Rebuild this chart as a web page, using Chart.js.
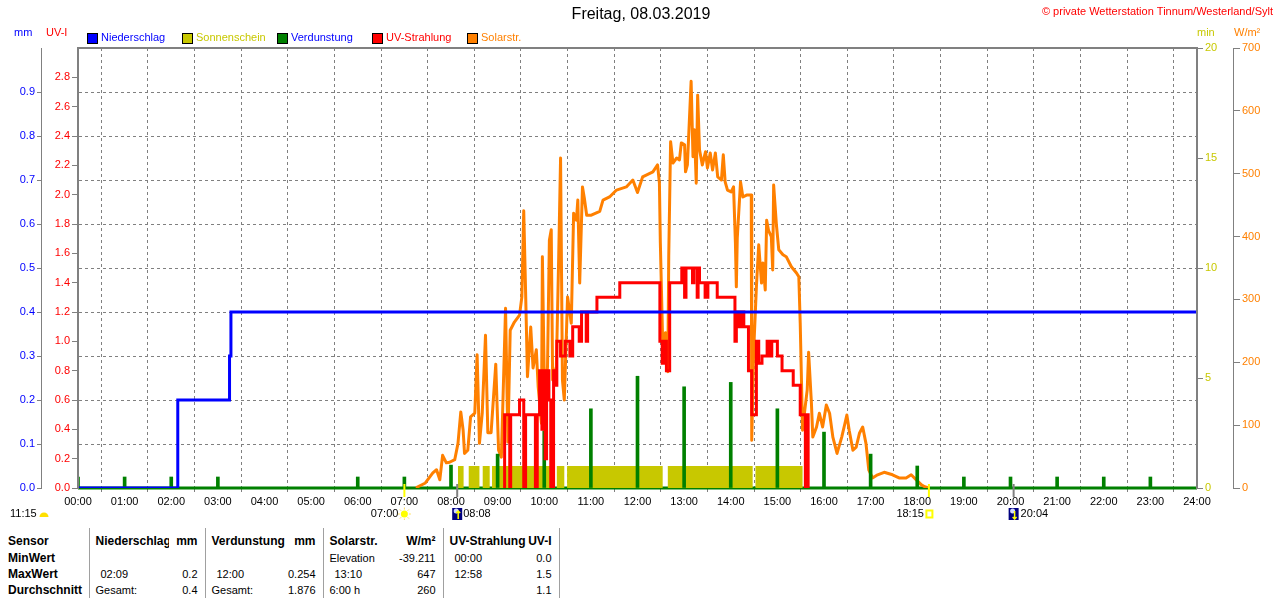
<!DOCTYPE html>
<html lang="de">
<head>
<meta charset="utf-8">
<title>Freitag, 08.03.2019</title>
<script src="https://cdn.jsdelivr.net/npm/chart.js@4.4.1/dist/chart.umd.min.js"></script>
<style>
  body { margin: 0; background: #fff; }
  #wrap { position: relative; width: 1280px; height: 600px; overflow: hidden; font-family: "Liberation Sans", Arial, sans-serif; }
  #chart { position: absolute; left: 0; top: 0; }
  #stats { position: absolute; left: 0; top: 528px; width: 559px; border-collapse: collapse; table-layout: fixed; font-size: 11px; color: #000; }
  #stats td { padding: 0; height: 16px; line-height: 16px; white-space: nowrap; overflow: hidden; }
  #stats tr.head td { height: 22px; line-height: 18px; vertical-align: bottom; font-weight: bold; font-size: 12px; }
  #stats td.lbl { font-weight: bold; font-size: 12px; padding-left: 8px; }
  #stats td.l { border-left: 1px solid #a0a0a0; padding-left: 6px; }
  #stats td.t { padding-left: 11px; }
  #stats td.r { text-align: right; padding-right: 7px; }
  #stats td.last { border-right: 1px solid #a0a0a0; }
</style>
</head>
<body>
<div id="wrap">
  <canvas id="chart" width="1280" height="520"></canvas>
  <table id="stats"></table>
</div>
<script>
const chartTitle = 'Freitag, 08.03.2019';
const copyright = '\u00A9 private Wetterstation Tinnum/Westerland/Sylt';

const hourLabels = ['00:00', '01:00', '02:00', '03:00', '04:00', '05:00', '06:00', '07:00', '08:00',
  '09:00', '10:00', '11:00', '12:00', '13:00', '14:00', '15:00', '16:00', '17:00', '18:00',
  '19:00', '20:00', '21:00', '22:00', '23:00', '24:00'];

const seriesNames = ['Niederschlag', 'Sonnenschein', 'Verdunstung', 'UV-Strahlung', 'Solarstr.'];
const seriesColors = ['#0000ff', '#c8c800', '#008000', '#ff0000', '#ff8000'];
const legendTextColors = ['#0000ff', '#c8c800', '#0000ff', '#ff0000', '#ff8000'];

// Niederschlag (mm, Summe), Zeit in Stunden
const rainTimes = [0, 2.14, 3.25, 3.28, 24];
const rainValues = [0, 0.2, 0.3, 0.4, 0.4];

// Sonnenschein (min), Intervalle mit Sonne
const sunStart = [8.15, 8.38, 8.68, 8.88, 10.27, 10.49, 12.65, 14.53];
const sunEnd = [8.27, 8.61, 8.83, 10.23, 10.43, 12.54, 14.47, 15.54];
const sunMinutes = [1, 1, 1, 1, 1, 1, 1, 1];

// Verdunstung (mm) je Stunde
const evapHours = [0, 1, 2, 3, 6, 7, 8, 9, 10, 11, 12, 13, 14, 15, 16, 17, 18, 19, 20, 21, 22, 23];
const evapValues = [0.025, 0.025, 0.025, 0.025, 0.025, 0.025, 0.052, 0.077, 0.13, 0.18, 0.254,
  0.23, 0.24, 0.18, 0.127, 0.077, 0.05, 0.025, 0.025, 0.025, 0.025, 0.025];

// UV-Strahlung (UV-I)
const uvTimes = [9.14, 9.15, 9.26, 9.28, 9.47, 9.56, 9.60, 9.81, 9.85, 9.90, 9.95, 9.98, 10.02, 10.05,
  10.10, 10.14, 10.20, 10.24, 10.27, 10.35, 10.45, 10.55, 10.61, 10.75, 10.80, 10.90, 10.93, 11.13,
  11.62, 12.48, 12.53, 12.58, 12.62, 12.69, 12.95, 13.01, 13.04, 13.18, 13.21, 13.28, 13.30, 13.33,
  13.45, 13.51, 13.71, 14.09, 14.12, 14.16, 14.22, 14.28, 14.38, 14.45, 14.55, 14.60, 14.67, 14.78,
  14.84, 14.88, 15.00, 15.10, 15.34, 15.49, 15.60, 15.63, 15.66];
const uvValues = [0, 0.5, 0, 0.5, 0.6, 0, 0.5, 0, 0.5, 0.8, 0.4, 0.8, 0.2, 0.8,
  0.6, 0, 0.8, 0.7, 1.0, 0.9, 1.0, 0.9, 1.1, 1.0, 1.2, 1.0, 1.2, 1.3,
  1.4, 1.0, 0.85, 1.0, 0.8, 1.4, 1.5, 1.3, 1.5, 1.4, 1.5, 1.3, 1.5, 1.4,
  1.3, 1.4, 1.3, 1.0, 1.2, 1.1, 1.2, 1.1, 0.8, 0.5, 1.0, 0.85, 0.9, 1.0,
  0.9, 1.0, 0.9, 0.8, 0.7, 0.5, 0, 0.5, 0];

// Solarstrahlung (W/m²)
const solarTimes = [7.25, 7.29, 7.45, 7.61, 7.69, 7.76, 7.82, 7.90, 7.97, 8.08, 8.15, 8.21, 8.26,
  8.29, 8.36, 8.42, 8.51, 8.56, 8.61, 8.67, 8.74, 8.79, 8.86, 8.96, 9.02, 9.08, 9.17, 9.22, 9.27,
  9.36, 9.47, 9.52, 9.56, 9.60, 9.64, 9.71, 9.76, 9.83, 9.87, 9.94, 9.96, 10.01, 10.07, 10.11, 10.15,
  10.18, 10.26, 10.31, 10.35, 10.39, 10.43, 10.50, 10.58, 10.63, 10.69, 10.72, 10.76, 10.82, 10.86,
  10.91, 11.01, 11.19, 11.26, 11.40, 11.55, 11.76, 11.90, 12.00, 12.11, 12.33, 12.43, 12.47, 12.49,
  12.54, 12.60, 12.65, 12.67, 12.71, 12.76, 12.84, 12.90, 12.94, 13.01, 13.03, 13.07, 13.15, 13.19,
  13.22, 13.26, 13.29, 13.33, 13.39, 13.46, 13.50, 13.56, 13.61, 13.67, 13.72, 13.80, 13.84, 13.88,
  13.93, 14.01, 14.06, 14.10, 14.12, 14.14, 14.21, 14.26, 14.34, 14.44, 14.45, 14.49, 14.55, 14.60,
  14.66, 14.69, 14.74, 14.77, 14.81, 14.87, 14.90, 14.92, 14.98, 15.03, 15.12, 15.19, 15.30, 15.41,
  15.46, 15.49, 15.54, 15.58, 15.64, 15.67, 15.73, 15.76, 15.84, 15.90, 15.97, 16.05, 16.12, 16.19,
  16.28, 16.38, 16.45, 16.49, 16.54, 16.62, 16.69, 16.76, 16.83, 16.90, 16.96, 17.04, 17.15, 17.29,
  17.47, 17.61, 17.76, 17.87, 17.98, 18.09, 18.16, 18.25];
const solarValues = [0, 2, 8, 24, 29, 13, 52, 40, 41, 45, 71, 121, 92,
  55, 60, 113, 119, 212, 71, 119, 243, 88, 88, 197, 60, 49, 286, 73, 251,
  264, 275, 304, 441, 312, 177, 256, 191, 220, 161, 103, 368, 129, 193, 394, 411,
  172, 193, 368, 525, 172, 140, 304, 262, 437, 426, 458, 326, 479, 461,
  434, 434, 440, 458, 463, 474, 479, 490, 470, 495, 503, 514, 485, 390,
  231, 247, 185, 368, 551, 517, 525, 522, 549, 546, 503, 514, 647, 527,
  570, 485, 625, 538, 514, 535, 509, 533, 506, 533, 495, 490, 530, 487,
  474, 471, 479, 390, 320, 398, 487, 463, 466, 466, 76, 215, 320, 387,
  326, 358, 315, 426, 410, 400, 347, 482, 418, 379, 371, 368, 352, 342,
  336, 262, 92, 119, 156, 216, 135, 81, 97, 119, 97, 132, 119, 81,
  55, 81, 103, 116, 92, 60, 65, 87, 97, 71, 29, 16, 21, 25,
  21, 16, 16, 21, 13, 5, 2, 0];

// Sonne / Mond
const dayLength = '11:15';
const sunRise = 7.0, sunRiseLabel = '07:00';
const sunSet = 18.25, sunSetLabel = '18:15';
const moonRise = 8.133, moonRiseLabel = '08:08';
const moonSet = 20.067, moonSetLabel = '20:04';

// Tabelle
const statHeaders = [['Niederschlag', 'mm'], ['Verdunstung', 'mm'], ['Solarstr.', 'W/m\u00B2'], ['UV-Strahlung', 'UV-I']];
const statRowLabels = ['MinWert', 'MaxWert', 'Durchschnitt'];
const statMin = [['', ''], ['', ''], ['Elevation', '-39.211'], ['00:00', '0.0']];
const statMax = [['02:09', '0.2'], ['12:00', '0.254'], ['13:10', '647'], ['12:58', '1.5']];
const statAvg = [['Gesamt:', '0.4'], ['Gesamt:', '1.876'], ['6:00 h', '260'], ['', '1.1']];

const toPoints = (xs, ys) => xs.map((x, i) => ({ x: x, y: ys[i] }));

const sunPoints = [{ x: 0, y: 0 }];
sunStart.forEach((s, i) => {
  sunPoints.push({ x: s, y: sunMinutes[i] }, { x: sunEnd[i], y: 0 });
});
sunPoints.push({ x: 24, y: 0 });

const fixWidth = w => scale => { scale.width = w; };
const GRID = '#808080';

const overlay = {
  id: 'overlay',
  beforeDatasetsDraw(chart) {
    // gruene Nulllinie der Verdunstung
    const { ctx, chartArea: a } = chart;
    ctx.save();
    ctx.lineWidth = 3;
    ctx.strokeStyle = '#008000';
    ctx.beginPath();
    ctx.moveTo(a.left, a.bottom);
    ctx.lineTo(a.right, a.bottom);
    ctx.stroke();
    ctx.restore();
  },
  afterDatasetsDraw(chart) {
    const { ctx, chartArea: a } = chart;
    ctx.save();
    ctx.lineWidth = 2;
    ctx.strokeStyle = GRID;
    ctx.beginPath();
    ctx.moveTo(a.left, a.bottom + 1);
    ctx.lineTo(a.left, a.top);
    ctx.lineTo(a.right, a.top);
    ctx.lineTo(a.right, a.bottom + 1);
    ctx.stroke();
    ctx.restore();
  },
  afterDraw(chart) {
    const { ctx } = chart;
    const xs = chart.scales.x;
    const bottom = chart.chartArea.bottom;
    const rowY = 514;
    ctx.save();
    ctx.textBaseline = 'middle';

    ctx.font = '16px "Liberation Sans", Arial, sans-serif';
    ctx.fillStyle = '#000';
    ctx.textAlign = 'center';
    ctx.fillText(chartTitle, 641, 15);

    ctx.font = '11px "Liberation Sans", Arial, sans-serif';
    ctx.textAlign = 'right';
    ctx.fillStyle = '#ff0000';
    ctx.fillText(copyright, 1273, 12);

    ctx.textAlign = 'left';
    ctx.fillStyle = '#0000ff'; ctx.fillText('mm', 14, 33);
    ctx.fillStyle = '#ff0000'; ctx.fillText('UV-I', 46, 33);
    ctx.fillStyle = '#c8c800'; ctx.fillText('min', 1197, 33);
    ctx.fillStyle = '#ff8000'; ctx.fillText('W/m\u00B2', 1234, 33);

    // Legende
    seriesNames.forEach((name, i) => {
      const lx = 87 + i * 95;
      ctx.fillStyle = seriesColors[i];
      ctx.fillRect(lx, 33, 10, 10);
      ctx.strokeStyle = '#000';
      ctx.lineWidth = 1;
      ctx.strokeRect(lx + 0.5, 33.5, 10, 10);
      ctx.fillStyle = legendTextColors[i];
      ctx.fillText(name, lx + 14, 38);
    });

    // Sonnen- und Mondzeiten unter der Achse
    const mark = (t, color) => {
      const px = xs.getPixelForValue(t);
      ctx.strokeStyle = color;
      ctx.lineWidth = 2;
      ctx.beginPath();
      ctx.moveTo(px, bottom - 4);
      ctx.lineTo(px, bottom + 9);
      ctx.stroke();
      return px;
    };
    const moonIcon = (cx, up) => {
      ctx.fillStyle = '#000080';
      ctx.fillRect(cx - 5, rowY - 6, 10, 12);
      ctx.fillStyle = '#d0d8ff';
      ctx.beginPath();
      ctx.arc(cx - 1, rowY - 3, 2.5, 0, Math.PI * 2);
      ctx.fill();
      ctx.strokeStyle = '#ffff00';
      ctx.lineWidth = 1.5;
      ctx.beginPath();
      ctx.moveTo(cx + 1, rowY - 3);
      ctx.lineTo(cx + 1, rowY + 5);
      if (up) { ctx.moveTo(cx - 1, rowY - 1); ctx.lineTo(cx + 1, rowY - 3); ctx.lineTo(cx + 3, rowY - 1); }
      else { ctx.moveTo(cx - 1, rowY + 3); ctx.lineTo(cx + 1, rowY + 5); ctx.lineTo(cx + 3, rowY + 3); }
      ctx.stroke();
    };

    ctx.fillStyle = '#000';
    ctx.fillText(dayLength, 10, rowY);
    ctx.fillStyle = '#ffe000';
    ctx.beginPath();
    ctx.arc(44, rowY + 3, 4.5, Math.PI, 0);
    ctx.fill();

    const pr = mark(sunRise, '#ffff00');
    ctx.textAlign = 'right';
    ctx.fillStyle = '#000';
    ctx.fillText(sunRiseLabel, pr - 6, rowY);
    ctx.fillStyle = '#ffff00';
    ctx.beginPath();
    ctx.arc(pr, rowY, 3.5, 0, Math.PI * 2);
    ctx.fill();
    ctx.strokeStyle = '#ffe060';
    ctx.lineWidth = 1;
    for (let k = 0; k < 8; k++) {
      const ang = k * Math.PI / 4;
      ctx.beginPath();
      ctx.moveTo(pr + Math.cos(ang) * 4.5, rowY + Math.sin(ang) * 4.5);
      ctx.lineTo(pr + Math.cos(ang) * 6.5, rowY + Math.sin(ang) * 6.5);
      ctx.stroke();
    }

    const ps = mark(sunSet, '#ffff00');
    ctx.fillStyle = '#000';
    ctx.fillText(sunSetLabel, ps - 5, rowY);
    ctx.strokeStyle = '#ffff00';
    ctx.strokeRect(ps - 2.5, rowY - 3.5, 6, 7);

    ctx.textAlign = 'left';
    const pm = mark(moonRise, '#808080');
    moonIcon(pm, true);
    ctx.fillStyle = '#000';
    ctx.fillText(moonRiseLabel, pm + 6, rowY);

    const pn = mark(moonSet, '#808080');
    moonIcon(pn, false);
    ctx.fillStyle = '#000';
    ctx.fillText(moonSetLabel, pn + 7, rowY);

    ctx.restore();
  }
};

Chart.defaults.font.family = '"Liberation Sans", Arial, sans-serif';
Chart.defaults.font.size = 11;
Chart.defaults.color = '#000';

new Chart(document.getElementById('chart'), {
  type: 'line',
  data: {
    datasets: [
      {
        label: seriesNames[0],
        data: toPoints(rainTimes, rainValues),
        yAxisID: 'yMm',
        borderColor: seriesColors[0],
        borderWidth: 3,
        stepped: true,
        pointRadius: 0,
        order: 0
      },
      {
        label: seriesNames[3],
        data: toPoints(uvTimes, uvValues),
        yAxisID: 'yUv',
        borderColor: seriesColors[3],
        borderWidth: 3,
        stepped: true,
        pointRadius: 0,
        order: 1
      },
      {
        type: 'bar',
        label: seriesNames[2],
        data: toPoints(evapHours, evapValues),
        yAxisID: 'yMm',
        backgroundColor: seriesColors[2],
        borderWidth: 0,
        barThickness: 3,
        order: 2
      },
      {
        label: seriesNames[4],
        data: toPoints(solarTimes, solarValues),
        yAxisID: 'ySol',
        borderColor: seriesColors[4],
        borderWidth: 3,
        borderJoinStyle: 'round',
        tension: 0,
        pointRadius: 0,
        order: 3
      },
      {
        label: seriesNames[1],
        data: sunPoints,
        yAxisID: 'yMin',
        borderColor: 'rgba(0,0,0,0)',
        backgroundColor: seriesColors[1],
        borderWidth: 1,
        stepped: true,
        fill: 'origin',
        pointRadius: 0,
        order: 4
      }
    ]
  },
  options: {
    responsive: false,
    animation: false,
    devicePixelRatio: 1,
    events: [],
    layout: { padding: { top: 48, left: 0, right: 0, bottom: 0 } },
    plugins: {
      legend: { display: false },
      tooltip: { enabled: false },
      title: { display: false }
    },
    scales: {
      x: {
        type: 'linear',
        min: 0,
        max: 24,
        offset: false,
        afterFit: scale => { scale.height = 32; },
        ticks: {
          stepSize: 1,
          autoSkip: false,
          maxRotation: 0,
          padding: 3,
          color: '#000',
          callback: v => hourLabels[v]
        },
        grid: { color: GRID, drawTicks: true, tickLength: 4, tickColor: GRID },
        border: { display: false, dash: [3, 3] }
      },
      yUv: {
        position: 'left',
        weight: 0,
        min: 0,
        max: 3.0,
        afterFit: fixWidth(37),
        ticks: {
          stepSize: 0.2,
          padding: 2,
          color: '#ff0000',
          callback: v => (v > 2.9 ? null : v.toFixed(1))
        },
        grid: { drawOnChartArea: false, drawTicks: true, tickLength: 6, tickColor: GRID },
        border: { display: false }
      },
      yMm: {
        position: 'left',
        weight: 1,
        min: 0,
        max: 1.0,
        afterFit: fixWidth(41),
        ticks: {
          stepSize: 0.1,
          padding: 2,
          color: '#0000ff',
          callback: v => (v > 0.95 ? null : v.toFixed(1))
        },
        grid: { color: GRID, drawOnChartArea: true, drawTicks: true, tickLength: 4, tickColor: GRID },
        border: { display: true, color: GRID, width: 1, dash: [3, 3] }
      },
      yMin: {
        position: 'right',
        weight: 0,
        min: 0,
        max: 20,
        afterFit: fixWidth(36),
        ticks: { stepSize: 5, padding: 2, color: '#c8c800' },
        grid: { drawOnChartArea: false, drawTicks: true, tickLength: 6, tickColor: GRID },
        border: { display: false }
      },
      ySol: {
        position: 'right',
        weight: 1,
        min: 0,
        max: 700,
        afterFit: fixWidth(47),
        ticks: { stepSize: 100, padding: 2, color: '#ff8000' },
        grid: { drawOnChartArea: false, drawTicks: true, tickLength: 7, tickColor: GRID },
        border: { display: true, color: GRID, width: 1 }
      }
    }
  },
  plugins: [overlay]
});

// Statistik-Tabelle
(function buildStats() {
  const table = document.getElementById('stats');
  const widths = [89, 80, 36, 80, 38, 60, 60, 85, 31];
  const cg = document.createElement('colgroup');
  widths.forEach(w => {
    const c = document.createElement('col');
    c.style.width = w + 'px';
    cg.appendChild(c);
  });
  table.appendChild(cg);

  const isTime = s => /^\d\d:\d\d$/.test(s);
  const addRow = (label, pairs, cls) => {
    const tr = document.createElement('tr');
    if (cls) tr.className = cls;
    const td0 = document.createElement('td');
    td0.className = 'lbl';
    td0.textContent = label;
    tr.appendChild(td0);
    pairs.forEach((p, i) => {
      const a = document.createElement('td');
      a.className = 'l' + (!cls && isTime(p[0]) ? ' t' : '');
      a.textContent = p[0];
      const b = document.createElement('td');
      b.className = 'r' + (i === pairs.length - 1 ? ' last' : '');
      b.textContent = p[1];
      tr.appendChild(a);
      tr.appendChild(b);
    });
    table.appendChild(tr);
  };
  addRow('Sensor', statHeaders, 'head');
  addRow(statRowLabels[0], statMin);
  addRow(statRowLabels[1], statMax);
  addRow(statRowLabels[2], statAvg);
})();
</script>
</body>
</html>
